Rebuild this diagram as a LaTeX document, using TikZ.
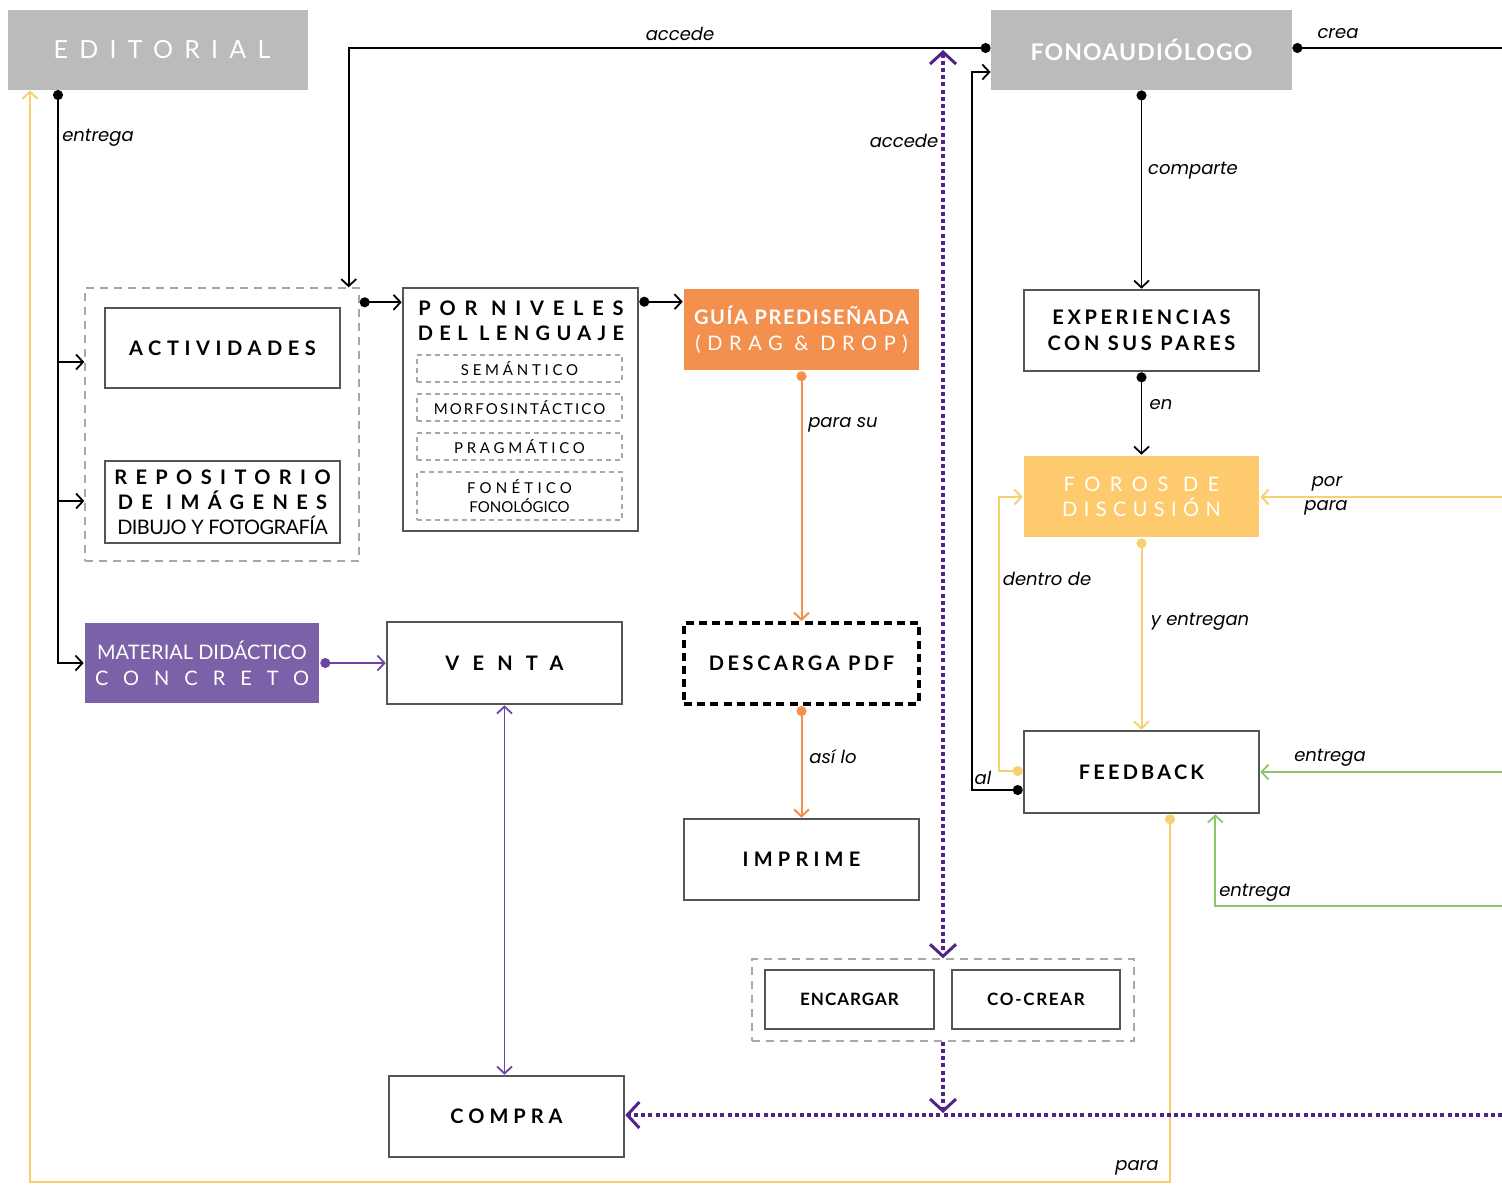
\documentclass[tikz,border=0pt]{standalone}
\usepackage{fontspec}
\setmainfont{Lato}
\newfontfamily\labfont{Poppins}
\usetikzlibrary{arrows.meta,calc}
\definecolor{hdgray}{HTML}{BBBBB9}
\definecolor{boxgray}{HTML}{555555}
\definecolor{dashgray}{HTML}{A8A8A8}
\definecolor{orng}{HTML}{F4904E}
\definecolor{yelfill}{HTML}{FDCB6E}
\definecolor{yelline}{HTML}{F8CF72}
\definecolor{purfill}{HTML}{7B62A8}
\definecolor{purline}{HTML}{6B45A3}
\definecolor{purdark}{HTML}{4E2488}
\definecolor{grn}{HTML}{8CC86A}
\newcommand\LS[2]{{\addfontfeatures{LetterSpace=#1}#2}}
\newcommand\FS[2]{\fontsize{#1}{#2}\selectfont}
\tikzset{
  sz/.style 2 args={minimum width=#1*0.5pt, minimum height=#2*0.5pt},
  box/.style={draw=boxgray, line width=1.3pt, fill=white, inner sep=0pt, align=center, font=\bfseries\FS{10}{13}},
  hdr/.style={fill=hdgray, inner sep=0pt, align=center, text=white},
  lab/.style={font=\labfont\itshape\FS{9}{11}, inner sep=1pt},
  tipb/.tip={Straight Barb[length=3.5pt,width=7.5pt]},
  tipd/.tip={Circle[length=5pt]},
  blk/.style={draw=black, line width=0.9pt},
  org/.style={draw=orng, line width=1pt},
  yel/.style={draw=yelline, line width=1pt},
  grnl/.style={draw=grn, line width=0.9pt},
  pur/.style={draw=purline, line width=0.9pt},
  pdot/.style={draw=purdark, line width=1.6pt, dash pattern=on 2pt off 1.6pt},
  ptip/.tip={Straight Barb[length=6pt,width=13pt,line width=1.5pt]},
  ar/.style={-tipb},
  dar/.style={tipd-tipb},
  grpbox/.style={draw=dashgray, line width=0.7pt, dash pattern=on 4pt off 3pt, inner sep=0pt},
  inbox/.style={draw=dashgray, line width=0.6pt, dash pattern=on 2.5pt off 2pt, inner sep=0pt, align=center, font=\FS{7.5}{9.5}},
}
\begin{document}
\begin{tikzpicture}[x=0.5pt,y=-0.5pt]
\useasboundingbox (0,0) rectangle (1502,1185);
% header nodes
\node[hdr, sz={300}{80}] (ed) at (158,50) {\FS{12.5}{14}\hspace*{4pt}\LS{45}{EDITORIAL}};
\node[hdr, sz={301}{80}, font=\bfseries\FS{11.5}{14}] (fono) at (1141.5,50) {\LS{5}{FONOAUDIÓLOGO}};
% right column
\node[box, sz={235}{81}] (exp) at (1141.5,330.5) {\LS{18}{EXPERIENCIAS}\\\LS{18}{CON SUS PARES}};
\node[box, sz={235}{81}, draw=none, fill=yelfill, text=white, font=\FS{10}{12.5}] (foros) at (1141.5,496.5) {\LS{48}{FOROS DE}\\\LS{32}{DISCUSIÓN}};
\node[box, sz={235}{82}] (fb) at (1141.5,772) {\LS{16}{FEEDBACK}};
% left column
\node[grpbox, sz={274}{273}] (grp) at (222,424.5) {};
\node[box, sz={235}{80}] (act) at (222.5,348) {\LS{28}{ACTIVIDADES}};
\node[box, sz={235}{82}, font=\FS{10}{12.5}] (rep) at (222.5,502) {{\bfseries\LS{42}{REPOSITORIO}}\\{\bfseries\LS{42}{DE IMÁGENES}}\\{\addfontfeatures{LetterSpace=-3}DIBUJO Y FOTOGRAFÍA}};
\node[box, sz={234}{80}, draw=none, fill=purfill, text=white, font=\FS{10}{13}] (mat) at (202,663) {{\addfontfeatures{LetterSpace=0}MATERIAL DIDÁCTICO}\\\LS{75}{CONCRETO}};
% niveles
\node[box, sz={235}{243}] (niv) at (520.5,409.5) {};
\node[inner sep=0pt, align=center, font=\bfseries\FS{10}{12.5}] (nivt) at (521,321) {\LS{44}{POR NIVELES}\\\LS{32}{DEL LENGUAJE}};
\node[inbox, sz={205}{27}] (sem) at (519.5,368.5) {\LS{25}{SEMÁNTICO}};
\node[inbox, sz={205}{27}] (morf) at (519.5,407.5) {\LS{14}{MORFOSINTÁCTICO}};
\node[inbox, sz={205}{27}] (prag) at (519.5,446.5) {\LS{25}{PRAGMÁTICO}};
\node[inbox, sz={205}{48}] (fon) at (519.5,496) {\LS{28}{FONÉTICO}\\FONOLÓGICO};
% middle column
\node[box, sz={235}{81}, draw=none, fill=orng, text=white, font=\FS{10}{13}] (guia) at (801.5,329.5) {{\bfseries\LS{8}{GUÍA PREDISEÑADA}}\\\LS{33}{(DRAG \& DROP)}};
\node[box, sz={235}{81}, draw=black, line width=2pt, dash pattern=on 4pt off 2.6pt] (desc) at (801.5,663.5) {\LS{18}{DESCARGA PDF}};
\node[box, sz={235}{81}] (imp) at (801.5,859.5) {\LS{26}{IMPRIME}};
\node[box, sz={235}{82}] (venta) at (504.5,663) {\LS{66}{VENTA}};
\node[box, sz={235}{81}] (compra) at (506.5,1116.5) {\LS{25}{COMPRA}};
\node[grpbox, sz={382}{82}] (eng) at (943,1000) {};
\node[box, sz={169}{59}, font=\bfseries\FS{8.5}{10}] (enc) at (849.5,999.5) {\LS{6}{ENCARGAR}};
\node[box, sz={168}{59}, font=\bfseries\FS{8.5}{10}] (cocr) at (1036,999.5) {\LS{10}{CO-CREAR}};
% coordinates for free ends and bends
\coordinate (rc) at (1502,48);
\coordinate (alc) at (972,72);
\coordinate (ry) at (1502,497);
\coordinate (dd) at (999,497);
\coordinate (rg1) at (1502,772);
\coordinate (rg2) at (1502,906);
\coordinate (py) at (30,1182);
\coordinate (e0) at (58,90);
\coordinate (b1) at (58,362);
\coordinate (b2) at (58,501);
\coordinate (g1) at ($(grp.north east)+(0,15)$);
\coordinate (n1) at ($(niv.north east)+(0,15)$);
\coordinate (pt) at (943,50);
\coordinate (ph) at (1502,1115);
% black connectors
\draw[blk,dar] ($(fono.west)+(0,-2)$) -| ($(grp.north east)+(-11,0)$);
\node[lab] at (680,34) {accede};
\draw[blk,tipd-] ($(fono.east)+(0,-2)$) -- (rc);
\node[lab] at (1338,34) {crea};
\draw[blk,dar] ($(fb.west)+(0,18)$) -| (alc) -- (fono.west |- alc);
\node[lab] at (983,778) {al};
\draw[blk,dar] (fono.south) -- (exp.north);
\node[lab] at (1193,171) {comparte};
\draw[blk,dar] (exp.south) -- (foros.north);
\node[lab] at (1161,405) {en};
\draw[blk,dar] (e0) |- (mat.west);
\draw[blk,ar] (b1) -- (grp.west |- b1);
\draw[blk,ar] (b2) -- (grp.west |- b2);
\node[lab] at (98,138) {entrega};
\draw[blk,dar] (g1) -- (niv.west |- g1);
\draw[blk,dar] (n1) -- (guia.west |- n1);
% yellow
\draw[yel,ar] (ry) -- (foros.east |- ry);
\node[lab] at (1327,484) {por};
\node[lab] at (1326,508) {para};
\draw[yel,dar] (foros.south) -- (fb.north);
\node[lab] at (1200,622) {y entregan};
\draw[yel,dar] ($(fb.west)+(0,-1)$) -| (dd) -- (foros.west |- dd);
\node[lab] at (1047,579) {dentro de};
\draw[yel,dar] ($(fb.south)+(28.5,0)$) |- (py) -- (ed.south -| py);
\node[lab] at (1137,1168) {para};
% green
\draw[grnl,ar] (rg1) -- (fb.east |- rg1);
\node[lab] at (1330,758) {entrega};
\draw[grnl,ar] (rg2) -| ($(fb.south east)+(-45,0)$);
\node[lab] at (1255,893) {entrega};
% orange
\draw[org,dar] (guia.south) -- (desc.north);
\node[lab] at (843,425) {para su};
\draw[org,dar] (desc.south) -- (imp.north);
\node[lab] at (833,757) {así lo};
% purple
\draw[pur,dar] (mat.east) -- (venta.west);
\draw[pur,tipb-tipb] (venta.south) -- (venta.south |- compra.north);
\draw[pdot,ptip-ptip] (pt) -- (eng.north);
\node[lab] at (904,141) {accede};
\draw[pdot,-ptip] (eng.south) -- ($(eng.south |- ph)+(0,-2)$);
\draw[pdot,-ptip] (ph) -- (compra.east |- ph);
\end{tikzpicture}
\end{document}
